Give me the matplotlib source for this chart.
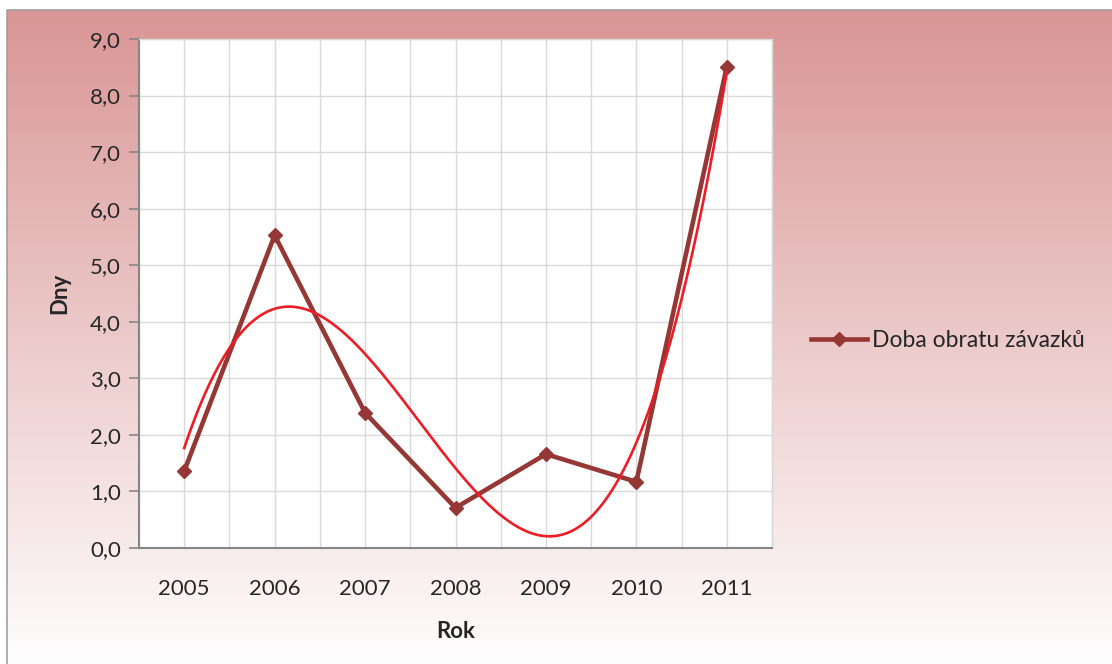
import numpy as np
import matplotlib.pyplot as plt
from matplotlib.lines import Line2D

roky = ["2005", "2006", "2007", "2008", "2009", "2010", "2011"]
doba_obratu = [1.36, 5.53, 2.39, 0.71, 1.66, 1.17, 8.51]
y_ticks = [0, 1, 2, 3, 4, 5, 6, 7, 8, 9]

W, H = 1112, 664
plt.rcParams['font.family'] = ['Lato', 'DejaVu Sans']

fig = plt.figure(figsize=(W / 100, H / 100), dpi=100)

# background of the chart area: rose at the top fading to white
bg = fig.add_axes([0, 0, 1, 1], zorder=-5)
t = np.linspace(0, 1, 400)[:, None]
top = np.array([217, 150, 149]) / 255.0
grad = top[None, None, :] * (1 - t[:, :, None]) + 1.0 * t[:, :, None]
x0, y0 = 7 / W, 1 - 10 / H
bg.imshow(grad, extent=[x0, 1.01, -0.01, y0], aspect='auto', origin='upper')
bg.plot([x0, x0, 1.01], [-0.01, y0, y0], color='#a0a0a0', lw=1.2)
bg.set_xlim(0, 1)
bg.set_ylim(0, 1)
bg.axis('off')

ax = fig.add_axes([139 / W, (H - 548) / H, (772 - 139) / W, (548 - 39) / H])
ax.set_facecolor('white')
x = np.arange(len(roky))

# gridlines: horizontal at each unit, vertical at categories and between them
for v in np.arange(-0.5, len(roky), 0.5):
    ax.axvline(v, color='#d9d9d9', lw=1, zorder=0)
for v in y_ticks:
    ax.axhline(v, color='#d9d9d9', lw=1, zorder=0)

ax.plot(x, doba_obratu, color='#953735', lw=3.3, marker='D', ms=7,
        solid_joinstyle='miter', zorder=3)

# polynomial trend through the series
coef = np.polyfit(x, doba_obratu, 3)
xs = np.linspace(0, len(roky) - 1, 300)
ax.plot(xs, np.polyval(coef, xs), color='#ee1c24', lw=1.9, zorder=4)

ax.set_xlim(-0.5, len(roky) - 0.5)
ax.set_ylim(0, 9)
ax.set_yticks(y_ticks)
ax.set_yticklabels([f"{v:.1f}".replace('.', ',') for v in y_ticks])
ax.set_xticks(x)
ax.set_xticklabels(roky)
ax.tick_params(axis='y', length=7, width=1.2, color='#868686', labelsize=16,
               labelcolor='#262626', pad=6)
ax.tick_params(axis='x', length=0, labelsize=16, labelcolor='#262626', pad=22)
for s in ['left', 'bottom']:
    ax.spines[s].set_color('#868686')
    ax.spines[s].set_linewidth(1.5)
for s in ['top', 'right']:
    ax.spines[s].set_color('#d9d9d9')
    ax.spines[s].set_linewidth(1)

ax.set_xlabel("Rok", fontsize=16, fontweight='bold', color='#262626', labelpad=16)
ax.set_ylabel("Dny", fontsize=16, fontweight='bold', color='#262626', labelpad=14)

handle = Line2D([], [], color='#953735', lw=3.3, marker='D', ms=7)
fig.legend([handle], ["Doba obratu závazků"], loc='center left',
           bbox_to_anchor=(811 / W, 1 - 341 / H), frameon=False, fontsize=16.5,
           handlelength=2.45, handletextpad=0.2, borderpad=0, borderaxespad=0,
           labelcolor='#262626')

fig.savefig("out.png", dpi=100)
